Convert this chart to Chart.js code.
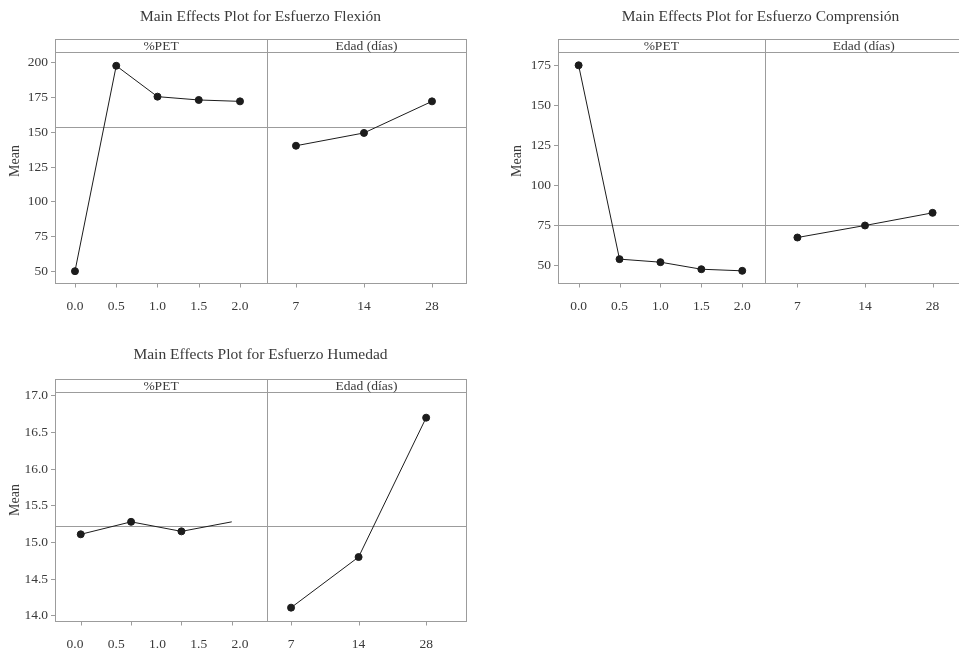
<!DOCTYPE html>
<html>
<head>
<meta charset="utf-8">
<script src="https://cdn.jsdelivr.net/npm/chart.js@4.4.0/dist/chart.umd.min.js"></script>
<style>
html, body { margin: 0; padding: 0; background: #fff; overflow: hidden; width: 959px; height: 650px; }
.plot { position: absolute; }
</style>
</head>
<body>
<div class="plot" style="left:0;top:0;width:480px;height:320px"><canvas id="flexion"></canvas></div>
<div class="plot" style="left:480px;top:0;width:500px;height:320px"><canvas id="compresion"></canvas></div>
<div class="plot" style="left:0;top:330px;width:480px;height:320px"><canvas id="humedad"></canvas></div>
<script>
// factors and their levels
const factors = ["%PET", "Edad (días)"];
const petTicks = [0, 0.5, 1.0, 1.5, 2.0];
const edadLabels = ["7", "14", "28"];

// Esfuerzo Flexión
const flexionPetX = [0, 0.5, 1.0, 1.5, 2.0];
const flexionPet = [50.1, 197.8, 175.6, 173.2, 172.2];
const flexionEdad = [140.3, 149.5, 172.2];
const flexionMean = 153.8;
const flexionTicks = [50, 75, 100, 125, 150, 175, 200];

// Esfuerzo Comprensión
const compresionPetX = [0, 0.5, 1.0, 1.5, 2.0];
const compresionPet = [175.0, 54.0, 52.1, 47.7, 46.7];
const compresionEdad = [67.5, 75.0, 82.9];
const compresionMean = 75.1;
const compresionTicks = [50, 75, 100, 125, 150, 175];

// Esfuerzo Humedad (only four %PET points, last one without marker)
const humedadPetX = [0.07, 0.68, 1.29, 1.9];
const humedadPet = [15.11, 15.28, 15.15, 15.28];
const humedadEdad = [14.11, 14.8, 16.7];
const humedadMean = 15.22;
const humedadTicks = [14.0, 14.5, 15.0, 15.5, 16.0, 16.5, 17.0];

const INK = "#1c1c1c";
const FRAME = "#9c9c9c";
const TEXT = "#3a3a3a";
const FONT = '"Liberation Serif", "DejaVu Serif", serif';
const STRIP = 13;

Chart.defaults.font.family = FONT;
Chart.defaults.color = TEXT;

function crisp(v) {
    return Math.round(v) + 0.5;
}

const panels = {
    id: "panels",
    beforeDatasetsDraw(chart, args, o) {
        const { ctx, chartArea: a, scales } = chart;
        const ym = crisp(scales.y.getPixelForValue(o.mean));
        ctx.save();
        ctx.strokeStyle = FRAME;
        ctx.lineWidth = 1;
        ctx.beginPath();
        ctx.moveTo(a.left, ym);
        ctx.lineTo(a.right, ym);
        ctx.stroke();
        ctx.restore();
    },
    afterDraw(chart, args, o) {
        const { ctx, chartArea: a, scales } = chart;
        const top = a.top - STRIP;
        const div = crisp(scales.xPet.right);
        const line = (x1, y1, x2, y2) => {
            ctx.beginPath();
            ctx.moveTo(x1, y1);
            ctx.lineTo(x2, y2);
            ctx.stroke();
        };
        ctx.save();
        ctx.strokeStyle = FRAME;
        ctx.lineWidth = 1;
        ctx.strokeRect(crisp(a.left), crisp(top), Math.round(a.right - a.left), Math.round(a.bottom - top));
        line(a.left, crisp(a.top), a.right, crisp(a.top));
        line(div, crisp(top), div, crisp(a.bottom));

        // tick marks under every level
        chart.data.datasets.forEach((ds, i) => {
            chart.getDatasetMeta(i).data.forEach((el) => {
                line(crisp(el.x), crisp(a.bottom), crisp(el.x), crisp(a.bottom) + 4);
            });
        });

        ctx.fillStyle = TEXT;
        ctx.textAlign = "center";
        ctx.textBaseline = "middle";
        ctx.font = "13.5px " + FONT;
        ctx.fillText(factors[0], (a.left + scales.xPet.right) / 2, top + STRIP / 2 + 0.5);
        ctx.fillText(factors[1], (scales.xEdad.left + scales.xEdad.right) / 2, top + STRIP / 2 + 0.5);

        ctx.font = "15.5px " + FONT;
        ctx.fillText(o.title, (a.left + a.right) / 2, o.titleY);

        ctx.font = "14px " + FONT;
        ctx.translate(o.meanX, (top + a.bottom) / 2);
        ctx.rotate(-Math.PI / 2);
        ctx.fillText("Mean", 0, 0);
        ctx.restore();
    },
};

function mainEffectsPlot(id, p) {
    const style = {
        borderColor: INK,
        borderWidth: 1,
        pointBackgroundColor: INK,
        pointBorderColor: INK,
        pointRadius: 3.5,
        pointHoverRadius: 3.5,
        showLine: true,
    };
    const tickFont = { size: 13.5, family: FONT };

    return new Chart(document.getElementById(id), {
        type: "scatter",
        data: {
            datasets: [
                {
                    ...style,
                    xAxisID: "xPet",
                    pointRadius: p.petRadius || 3.5,
                    data: p.petX.map((x, i) => ({ x, y: p.pet[i] })),
                },
                {
                    ...style,
                    xAxisID: "xEdad",
                    data: p.edad.map((y, i) => ({ x: i, y })),
                },
            ],
        },
        options: {
            responsive: true,
            maintainAspectRatio: false,
            animation: false,
            events: [],
            layout: { padding: { top: p.top, right: p.right, left: 0, bottom: 0 } },
            plugins: {
                legend: { display: false },
                tooltip: { enabled: false },
                panels: { title: p.title, titleY: p.titleY, meanX: p.meanX, mean: p.mean },
            },
            scales: {
                xPet: {
                    type: "linear",
                    position: "bottom",
                    stack: "x",
                    stackWeight: p.petW,
                    min: p.petMin,
                    max: p.petMax,
                    afterBuildTicks: (s) => {
                        s.ticks = petTicks.map((v) => ({ value: v }));
                    },
                    afterFit: (s) => {
                        s.height = p.axisH;
                    },
                    ticks: {
                        font: tickFont,
                        padding: 15,
                        autoSkip: false,
                        maxRotation: 0,
                        callback: (v) => Number(v).toFixed(1),
                    },
                    grid: { display: true, drawOnChartArea: false, drawTicks: false },
                    border: { display: false },
                },
                xEdad: {
                    type: "linear",
                    position: "bottom",
                    stack: "x",
                    stackWeight: p.edadW,
                    min: p.edadMin,
                    max: p.edadMax,
                    afterBuildTicks: (s) => {
                        s.ticks = edadLabels.map((_, i) => ({ value: i }));
                    },
                    afterFit: (s) => {
                        s.height = p.axisH;
                    },
                    ticks: {
                        font: tickFont,
                        padding: 15,
                        autoSkip: false,
                        maxRotation: 0,
                        callback: (v) => edadLabels[v],
                    },
                    grid: { display: true, drawOnChartArea: false, drawTicks: false },
                    border: { display: false },
                },
                y: {
                    type: "linear",
                    position: "left",
                    min: p.yMin,
                    max: p.yMax,
                    afterBuildTicks: (s) => {
                        s.ticks = p.yTicks.map((v) => ({ value: v }));
                    },
                    afterFit: (s) => {
                        s.width = p.axisW;
                    },
                    ticks: {
                        font: tickFont,
                        padding: 3,
                        callback: (v) => Number(v).toFixed(p.decimals),
                    },
                    grid: { drawOnChartArea: false, drawTicks: true, tickLength: 4, color: FRAME },
                    border: { display: false },
                },
            },
        },
        plugins: [panels],
    });
}

mainEffectsPlot("flexion", {
    title: "Main Effects Plot for Esfuerzo Flexión",
    petX: flexionPetX, pet: flexionPet, edad: flexionEdad, mean: flexionMean,
    yTicks: flexionTicks, decimals: 0, yMin: 41.6, yMax: 207.7,
    petMin: -0.242, petMax: 2.327, edadMin: -0.426, edadMax: 2.5,
    petW: 212, edadW: 199, axisW: 55, right: 14, top: 52, axisH: 37,
    titleY: 17, meanX: 15,
});

mainEffectsPlot("compresion", {
    title: "Main Effects Plot for Esfuerzo Comprensión",
    petX: compresionPetX, pet: compresionPet, edad: compresionEdad, mean: compresionMean,
    yTicks: compresionTicks, decimals: 0, yMin: 39.1, yMax: 183.3,
    petMin: -0.252, petMax: 2.272, edadMin: -0.487, edadMax: 2.45,
    petW: 206.5, edadW: 198.5, axisW: 78, right: 17, top: 52, axisH: 37,
    titleY: 17, meanX: 37,
});

mainEffectsPlot("humedad", {
    title: "Main Effects Plot for Esfuerzo Humedad",
    petX: humedadPetX, pet: humedadPet, edad: humedadEdad, mean: humedadMean,
    yTicks: humedadTicks, decimals: 1, yMin: 13.928, yMax: 17.05,
    petMin: -0.242, petMax: 2.327, edadMin: -0.356, edadMax: 2.59,
    petRadius: [3.5, 3.5, 3.5, 0],
    petW: 212, edadW: 199, axisW: 55, right: 14, top: 62, axisH: 29,
    titleY: 25, meanX: 15,
});
</script>
</body>
</html>
